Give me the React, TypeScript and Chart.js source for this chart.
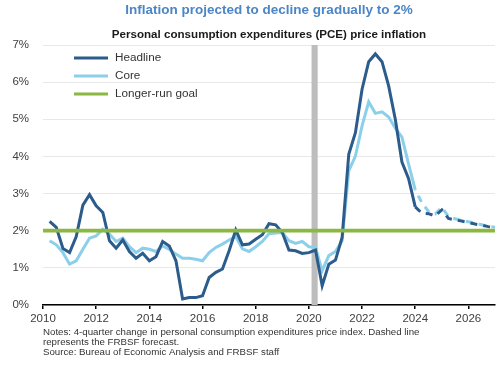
import { useEffect, useRef } from "react";
import { Chart, registerables } from "chart.js";

Chart.register(...registerables);

const TITLE = "Inflation projected to decline gradually to 2%";
const SUBTITLE = "Personal consumption expenditures (PCE) price inflation";
const NOTES = [
  "Notes: 4-quarter change in personal consumption expenditures price index. Dashed line",
  "represents the FRBSF forecast.",
  "Source: Bureau of Economic Analysis and FRBSF staff",
];
const LEGEND_LABELS = ["Headline", "Core", "Longer-run goal"];

// Quarterly series: 2010 Q1 plotted at 2010.25, one point per quarter
const FIRST_QUARTER_X = 2010.25;
const QUARTER_STEP = 0.25;

const headlineActual = [
  2.25, 2.09, 1.52, 1.41, 1.84, 2.69, 2.97, 2.67, 2.49, 1.73, 1.53, 1.75, 1.44, 1.26,
  1.39, 1.19, 1.3, 1.71, 1.59, 1.19, 0.16, 0.2, 0.2, 0.25, 0.74, 0.88, 0.97, 1.46,
  2.02, 1.62, 1.64, 1.77, 1.89, 2.19, 2.16, 1.95, 1.48, 1.46, 1.39, 1.41, 1.48, 0.52,
  1.1, 1.21, 1.82, 4.06, 4.64, 5.81, 6.55, 6.76, 6.55, 5.9, 5.0, 3.85, 3.4, 2.64,
];
const coreActual = [
  1.73, 1.62, 1.41, 1.1, 1.19, 1.5, 1.8, 1.86, 2.04, 1.91, 1.71, 1.8, 1.57, 1.41,
  1.53, 1.5, 1.44, 1.59, 1.5, 1.37, 1.26, 1.26, 1.23, 1.19, 1.41, 1.55, 1.64, 1.75,
  1.84, 1.51, 1.44, 1.57, 1.71, 1.92, 1.94, 1.95, 1.73, 1.66, 1.71, 1.57, 1.55, 0.92,
  1.33, 1.44, 1.73, 3.61, 4.01, 4.82, 5.47, 5.16, 5.2, 5.06, 4.76, 4.52, 3.79, 3.1,
];
// Forecast starts at the last actual quarter
const headlineForecast = [2.64, 2.47, 2.46, 2.4, 2.56, 2.33, 2.29, 2.26, 2.22, 2.18, 2.15, 2.11, 2.08, 2.04];
const coreForecast = [3.1, 2.75, 2.52, 2.45, 2.63, 2.38, 2.32, 2.28, 2.24, 2.2, 2.16, 2.12, 2.09, 2.05];

const GOAL_VALUE = 2;
const GOAL_RANGE = [2010, 2027];
const RECESSION = [2020.1, 2020.33];
const X_TICKS = [2010, 2012, 2014, 2016, 2018, 2020, 2022, 2024, 2026];
const Y_TICKS = [0, 1, 2, 3, 4, 5, 6, 7];

const HEADLINE_COLOR = "#2b5c8c";
const CORE_COLOR = "#8ccfea";
const GOAL_COLOR = "#8ab843";
const FONT = "'Liberation Sans', Arial, sans-serif";

function toPoints(values: number[], startIndex: number) {
  return values.map((v, i) => ({ x: FIRST_QUARTER_X + (startIndex + i) * QUARTER_STEP, y: v }));
}

const overlayPlugin = {
  id: "overlay",
  beforeDatasetsDraw(chart: any) {
    const { ctx, chartArea, scales } = chart;
    const x0 = scales.x.getPixelForValue(RECESSION[0]);
    const x1 = scales.x.getPixelForValue(RECESSION[1]);
    ctx.save();
    ctx.fillStyle = "#bdbdbd";
    ctx.fillRect(x0, chartArea.top, x1 - x0, chartArea.bottom - chartArea.top);
    ctx.restore();
  },
  afterDraw(chart: any) {
    const { ctx, chartArea } = chart;
    const cx = (chartArea.left + chartArea.right) / 2;
    ctx.save();
    ctx.textBaseline = "middle";
    ctx.textAlign = "center";
    ctx.fillStyle = "#4b86c6";
    ctx.font = `bold 13.5px ${FONT}`;
    ctx.fillText(TITLE, cx, 10.5);
    ctx.fillStyle = "#1a1a1a";
    ctx.font = `bold 11.6px ${FONT}`;
    ctx.fillText(SUBTITLE, cx, 35);

    // legend
    const colors = [HEADLINE_COLOR, CORE_COLOR, GOAL_COLOR];
    const rows = [58, 76, 94];
    ctx.textAlign = "left";
    ctx.font = `11.7px ${FONT}`;
    LEGEND_LABELS.forEach((label, i) => {
      ctx.strokeStyle = colors[i];
      ctx.lineWidth = 3;
      ctx.beginPath();
      ctx.moveTo(74, rows[i]);
      ctx.lineTo(108, rows[i]);
      ctx.stroke();
      ctx.fillStyle = "#333";
      ctx.fillText(label, 115, rows[i]);
    });

    // notes
    ctx.font = `9.7px ${FONT}`;
    ctx.fillStyle = "#333";
    NOTES.forEach((line, i) => {
      ctx.fillText(line, 43, 332 + i * 10.3);
    });
    ctx.restore();
  },
};

export default function App() {
  const ref = useRef<HTMLCanvasElement>(null);
  useEffect(() => {
    if (!ref.current) return;
    const fcStart = headlineActual.length - 1;
    const chart = new Chart(ref.current, {
      type: "line",
      data: {
        datasets: [
          {
            label: "Longer-run goal",
            data: GOAL_RANGE.map((x) => ({ x, y: GOAL_VALUE })),
            borderColor: GOAL_COLOR,
            borderWidth: 3.8,
            pointRadius: 0,
            order: 0,
          },
          {
            label: "Headline",
            data: toPoints(headlineActual, 0),
            borderColor: HEADLINE_COLOR,
            borderWidth: 3,
            pointRadius: 0,
            order: 1,
          },
          {
            label: "Headline forecast",
            data: toPoints(headlineForecast, fcStart),
            borderColor: HEADLINE_COLOR,
            borderWidth: 3,
            borderDash: [7, 6],
            pointRadius: 0,
            order: 1,
          },
          {
            label: "Core",
            data: toPoints(coreActual, 0),
            borderColor: CORE_COLOR,
            borderWidth: 3,
            pointRadius: 0,
            order: 2,
          },
          {
            label: "Core forecast",
            data: toPoints(coreForecast, fcStart),
            borderColor: CORE_COLOR,
            borderWidth: 3,
            borderDash: [7, 6],
            borderDashOffset: 6.5,
            pointRadius: 0,
            order: 2,
          },
        ],
      },
      options: {
        animation: false,
        responsive: false,
        devicePixelRatio: 1,
        layout: { padding: { top: 45, left: 8, right: 5, bottom: 38 } },
        plugins: { legend: { display: false }, tooltip: { enabled: false }, title: { display: false } },
        elements: { line: { tension: 0, borderCapStyle: "butt", borderJoinStyle: "miter" } },
        scales: {
          x: {
            type: "linear",
            min: 2010,
            max: 2027,
            afterBuildTicks: (scale: any) => {
              scale.ticks = X_TICKS.map((v) => ({ value: v }));
            },
            afterFit: (scale: any) => {
              scale.height = 22;
            },
            ticks: {
              callback: (v: any) => String(v),
              font: { family: FONT, size: 11.5 },
              color: "#404040",
              padding: 3,
              maxRotation: 0,
            },
            grid: { drawOnChartArea: false, drawTicks: true, tickLength: 4, color: "#000", lineWidth: 1.5 },
            border: { display: true, color: "#000", width: 1.5 },
          },
          y: {
            type: "linear",
            min: 0,
            max: 7,
            afterBuildTicks: (scale: any) => {
              scale.ticks = Y_TICKS.map((v) => ({ value: v }));
            },
            afterFit: (scale: any) => {
              scale.width = 35;
            },
            ticks: {
              callback: (v: any) => v + "%",
              font: { family: FONT, size: 11.5 },
              color: "#404040",
              padding: 14,
            },
            grid: { color: "#e8e8e8", lineWidth: 1, drawTicks: false },
            border: { display: false },
          },
        },
      },
      plugins: [overlayPlugin],
    } as any);
    return () => chart.destroy();
  }, []);
  return (
    <div style={{ position: "absolute", left: 0, top: 0, width: 500, height: 365, background: "#fff" }}>
      <canvas ref={ref} width={500} height={365} style={{ width: 500, height: 365, display: "block" }} />
    </div>
  );
}
